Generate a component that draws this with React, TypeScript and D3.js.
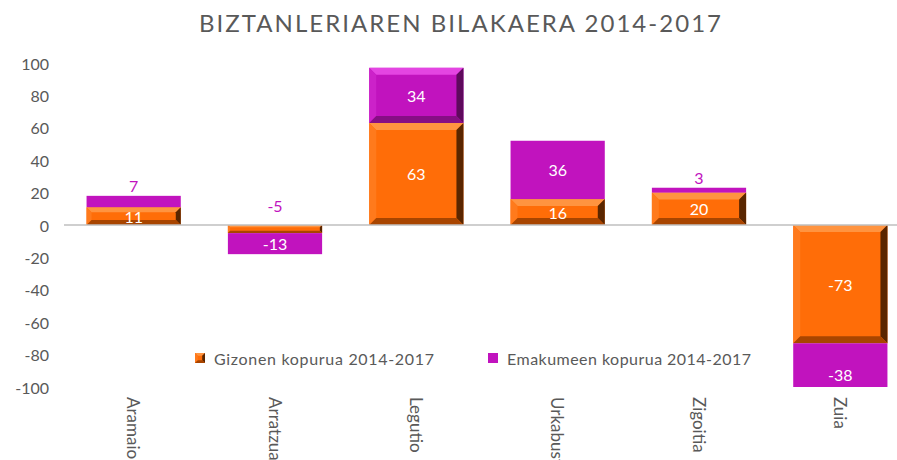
import React from "react";
import * as d3 from "d3";

const categories = ["Aramaio", "Arratzua-Ubarrundia", "Legutio", "Urkabustaiz", "Zigoitia", "Zuia"];
const gizonen = [11, -5, 63, 16, 20, -73];
const emakumeen = [7, -13, 34, 36, 3, -38];
const seriesNames = ["Gizonen kopurua 2014-2017", "Emakumeen kopurua 2014-2017"];
const yTicks = [100, 80, 60, 40, 20, 0, -20, -40, -60, -80, -100];
const title = "BIZTANLERIAREN BILAKAERA 2014-2017";
const bevelledWomen = ["Legutio"];

const W = 897;
const H = 460;
const FONT = "Lato, 'Noto Sans', sans-serif";
const TXT = "#595959";
const ORANGE = { face: "#FF6D08", top: "#FF9440", left: "#FF7A1C", right: "#5A2600", bottom: "#A84500" };
const PURPLE = { face: "#C113BE", top: "#E445E2", left: "#CC22C9", right: "#5E0A5C", bottom: "#860E84" };

type Pal = typeof ORANGE;

function Bevel({ x, y, w, h, pal, bevel }: { x: number; y: number; w: number; h: number; pal: Pal; bevel: boolean }) {
  if (h <= 0) return null;
  if (!bevel) return <rect x={x} y={y} width={w} height={h} fill={pal.face} />;
  const b = Math.max(1, Math.min(7, h * 0.28, w * 0.3));
  const x2 = x + w, y2 = y + h;
  return (
    <g>
      <rect x={x} y={y} width={w} height={h} fill={pal.face} />
      <polygon points={`${x},${y} ${x2},${y} ${x2 - b},${y + b} ${x + b},${y + b}`} fill={pal.top} />
      <polygon points={`${x},${y} ${x + b},${y + b} ${x + b},${y2 - b} ${x},${y2}`} fill={pal.left} />
      <polygon points={`${x2},${y} ${x2},${y2} ${x2 - b},${y2 - b} ${x2 - b},${y + b}`} fill={pal.right} />
      <polygon points={`${x},${y2} ${x2},${y2} ${x2 - b},${y2 - b} ${x + b},${y2 - b}`} fill={pal.bottom} />
    </g>
  );
}

export default function App() {
  const x = d3.scaleBand<string>().domain(categories).range([63, 911]).paddingInner(1 / 3).paddingOuter(1 / 6);
  const y = d3.scaleLinear().domain([-100, 100]).range([387, 63]);
  const clampV = (v: number) => Math.max(-100, Math.min(100, v));

  const bars: React.ReactNode[] = [];
  const labels: React.ReactNode[] = [];

  categories.forEach((c, i) => {
    const bx = x(c)!;
    const bw = x.bandwidth();
    let pos = 0, neg = 0;
    const vals = [gizonen[i], emakumeen[i]];
    const pals = [ORANGE, PURPLE];
    const segs: { v0: number; v1: number; val: number; s: number }[] = [];
    vals.forEach((v, s) => {
      if (v >= 0) { segs.push({ v0: pos, v1: pos + v, val: v, s }); pos += v; }
      else { segs.push({ v0: neg, v1: neg + v, val: v, s }); neg += v; }
    });
    segs.forEach((sg, k) => {
      const top = y(clampV(Math.max(sg.v0, sg.v1)));
      const bot = y(clampV(Math.min(sg.v0, sg.v1)));
      const bevel = sg.s === 0 || bevelledWomen.includes(c);
      bars.push(<Bevel key={`b${i}-${k}`} x={bx} y={top} w={bw} h={bot - top} pal={pals[sg.s]} bevel={bevel} />);
      const segH = Math.abs(y(sg.v0) - y(sg.v1));
      const cx = bx + bw / 2;
      if (segH >= 14) {
        const cy = y((sg.v0 + sg.v1) / 2);
        labels.push(
          <text key={`l${i}-${k}`} x={cx} y={cy} textAnchor="middle" dominantBaseline="central" fill="#FFFFFF" fontSize={16} fontFamily={FONT}>
            {sg.val}
          </text>
        );
      } else {
        const cy = sg.val >= 0 ? y(pos) - 10 : y(0) - 20;
        labels.push(
          <text key={`l${i}-${k}`} x={cx} y={cy} textAnchor="middle" dominantBaseline="central" fill={PURPLE.face} fontSize={16} fontFamily={FONT}>
            {sg.val}
          </text>
        );
      }
    });
  });

  return (
    <svg width={W} height={H} style={{ position: "absolute", left: 0, top: 0, background: "#fff" }}>
      <text x={460} y={32} textAnchor="middle" fill={TXT} fontSize={24} fontFamily={FONT} textLength={522} lengthAdjust="spacing">
        {title}
      </text>
      {yTicks.map((t) => (
        <text key={t} x={49} y={y(t)} textAnchor="end" dominantBaseline="central" fill={TXT} fontSize={16} fontFamily={FONT}>
          {t}
        </text>
      ))}
      {bars}
      <line x1={64} x2={W} y1={y(0)} y2={y(0)} stroke="#BFBFBF" strokeWidth={1.5} />
      {labels}
      {categories.map((c) => (
        <text key={c} transform={`translate(${x(c)! + x.bandwidth() / 2},397) rotate(90)`} dominantBaseline="central" fill={TXT} fontSize={17} fontFamily={FONT}>
          {c}
        </text>
      ))}
      <g>
        <Bevel x={195} y={353} w={10} h={10} pal={ORANGE} bevel={true} />
        <text x={214} y={358} dominantBaseline="central" fill={TXT} fontSize={16} fontFamily={FONT} textLength={220} lengthAdjust="spacing">
          {seriesNames[0]}
        </text>
        <rect x={488} y={353} width={10} height={10} fill={PURPLE.face} />
        <text x={507} y={358} dominantBaseline="central" fill={TXT} fontSize={16} fontFamily={FONT} textLength={244} lengthAdjust="spacing">
          {seriesNames[1]}
        </text>
      </g>
    </svg>
  );
}
